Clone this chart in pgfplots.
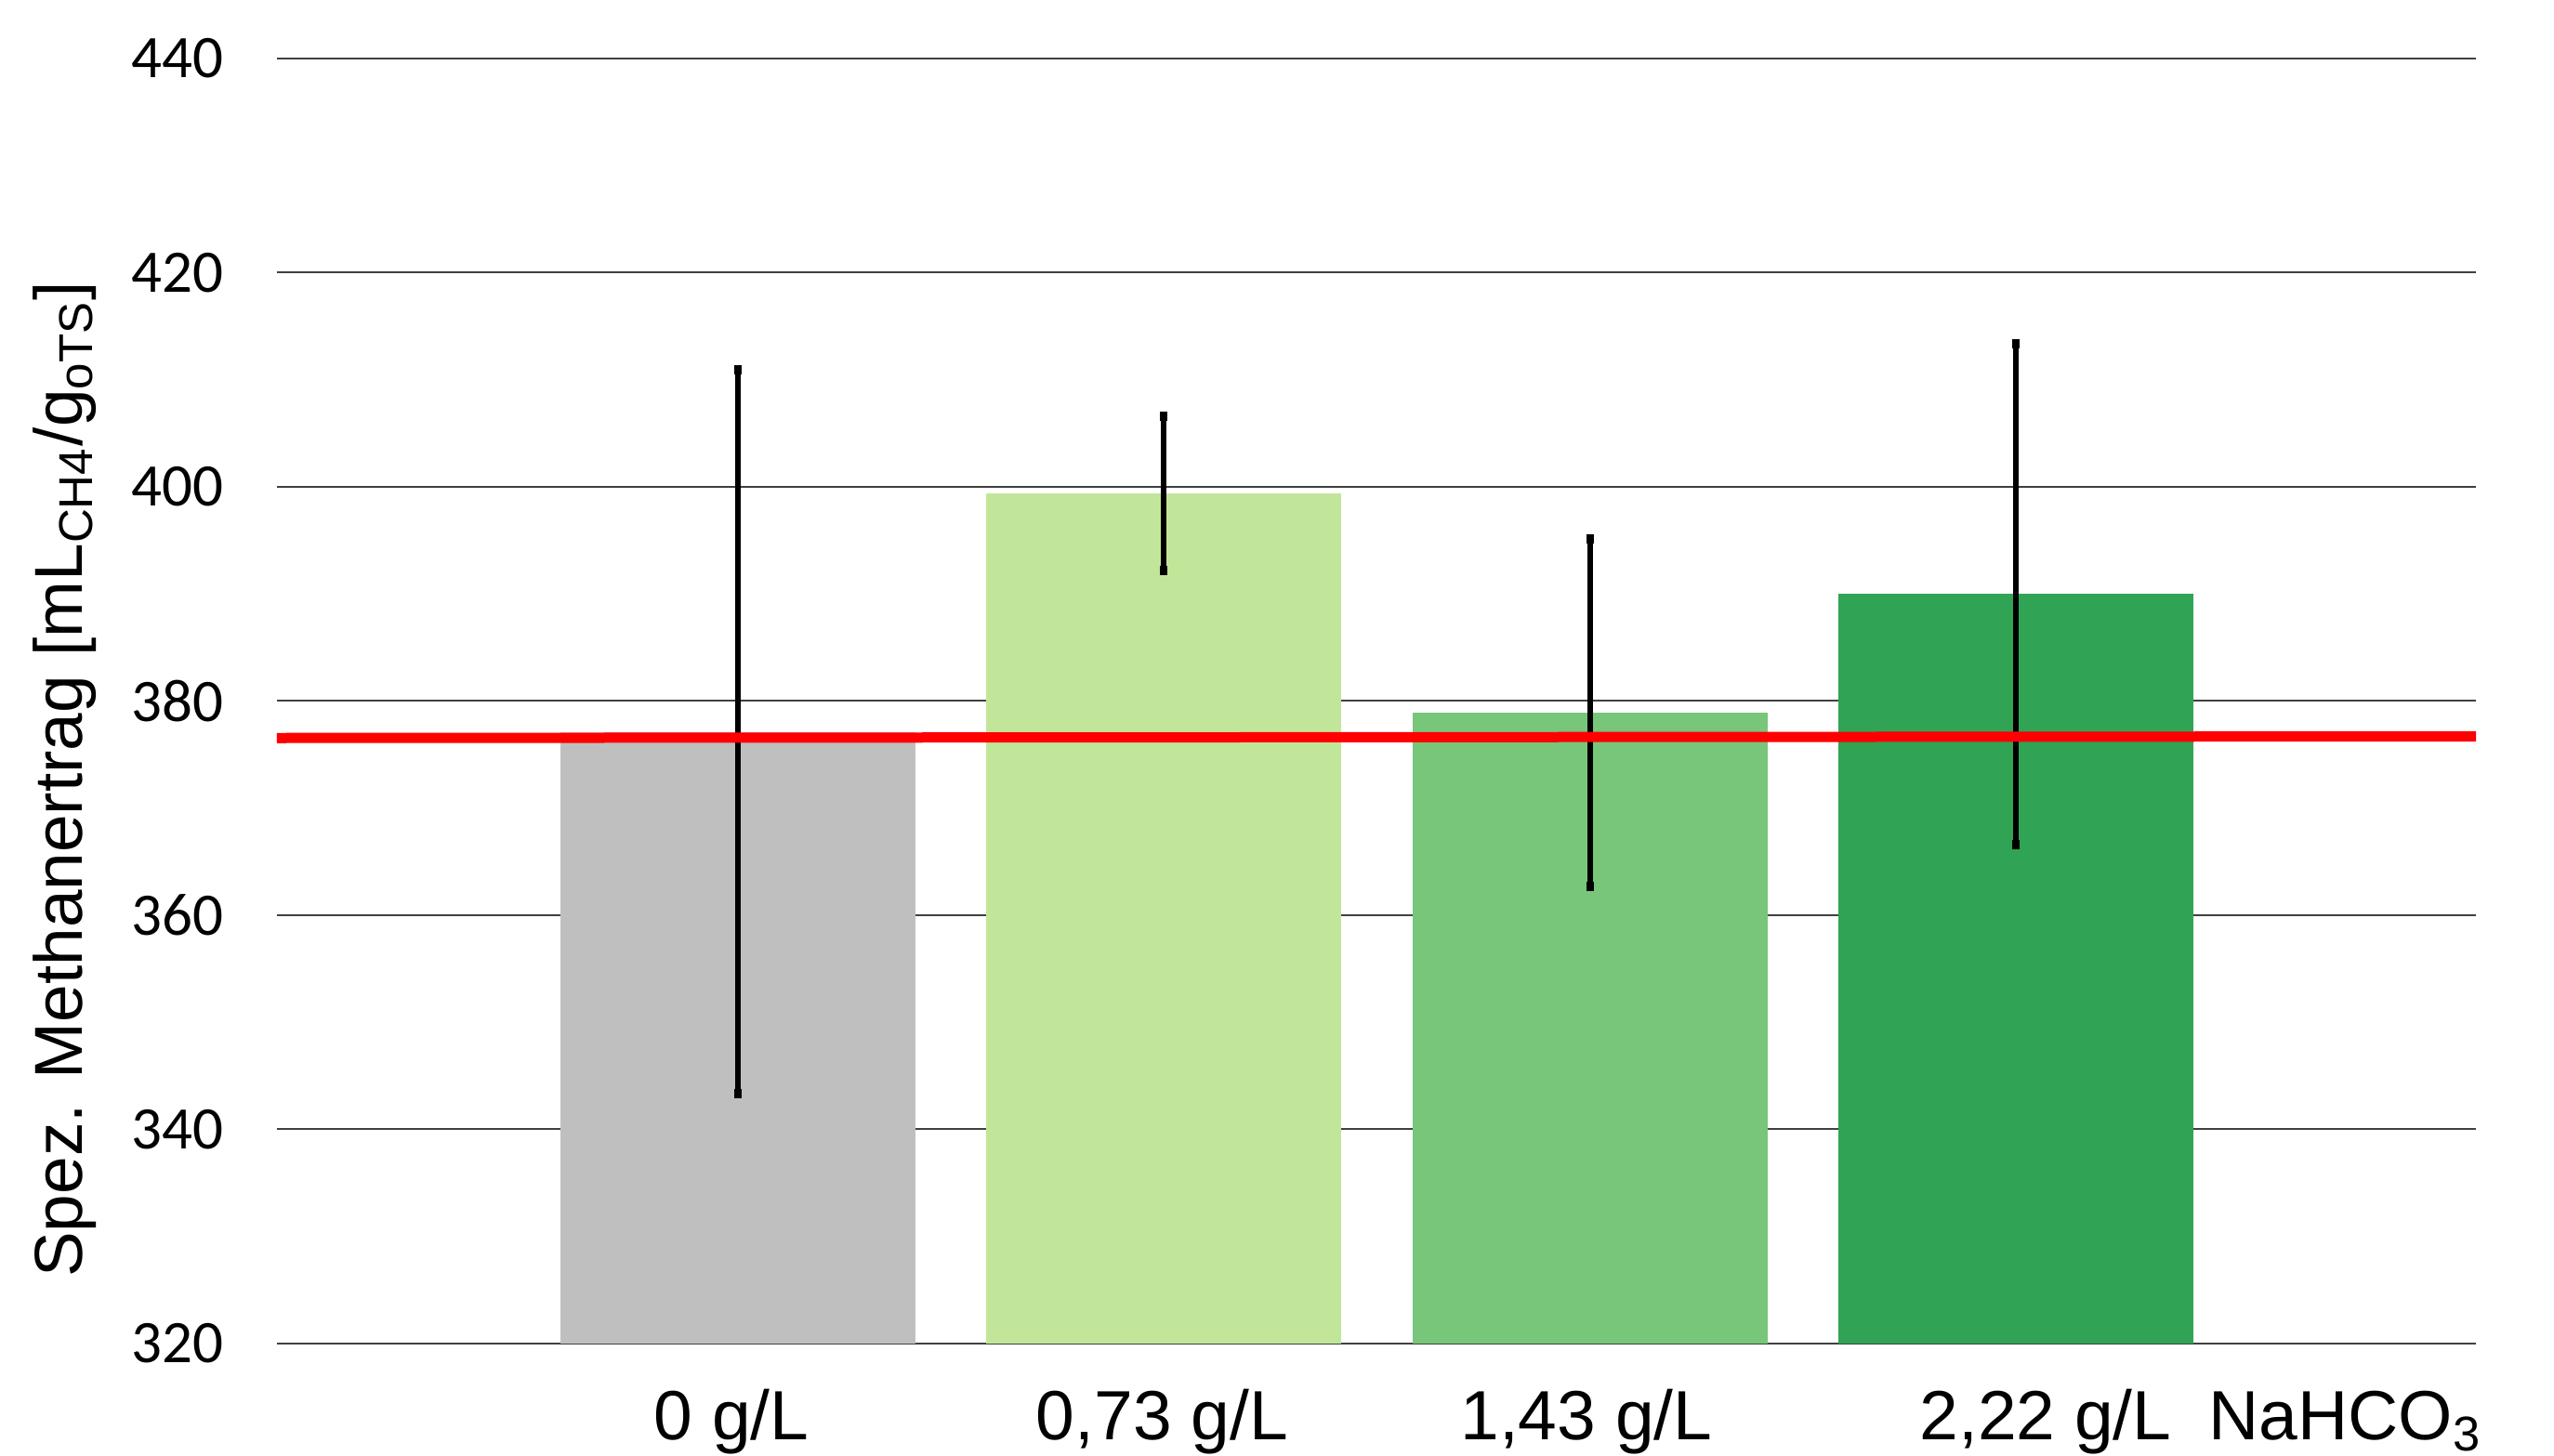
\documentclass[border=0pt]{standalone}
\usepackage{fontspec}
\setmainfont{Liberation Sans}
\newfontfamily\carlito{Carlito}
\usepackage{pgfplots}
\pgfplotsset{compat=1.18}
\definecolor{cgray}{HTML}{BFBFBF}
\definecolor{cg1}{HTML}{C2E699}
\definecolor{cg2}{HTML}{78C679}
\definecolor{cg3}{HTML}{31A354}
\pgfplotsset{myerr/.style={error bars/.cd, y dir=both, y explicit,
  error bar style={line width=1.25pt, black},
  error mark options={line width=1.6pt, mark size=1pt, black}}}
\begin{document}
\begin{tikzpicture}
\begin{axis}[
  at={(0,0)}, anchor=south west,
  scale only axis, width=473.2pt, height=276.6pt,
  xmin=-1.082, xmax=4.080, ymin=320, ymax=440,
  ytick={320,340,...,440},
  xtick={-0.015,0.996,1.992,3.07,3.774},
  xticklabels={0 g/L,{0,73 g/L},{1,43 g/L},{2,22 g/L},NaHCO\textsubscript{3}},
  axis line style={draw=none},
  tick style={draw=none},
  ymajorgrids, grid style={black!75, line width=0.4pt},
  /pgf/number format/assume math mode=true,
  yticklabel style={font=\carlito\fontsize{13}{15}\selectfont, xshift=-8pt},
  xticklabel style={font=\fontsize{15}{18}\selectfont, anchor=center, yshift=-12.5pt},
  ylabel={Spez. Methanertrag [mL\textsubscript{CH4}/g\textsubscript{oTS}]},
  every axis y label/.style={at={(rel axis cs:0,0.439)}, xshift=-45.6pt, rotate=90, anchor=center, font=\fontsize{14.6}{17}\selectfont},
  ybar, bar width=0.834, bar shift=0pt,
]
\addplot[fill=cgray, draw=none, myerr] coordinates {(0,377.1) +- (0,33.8)};
\addplot[fill=cg1, draw=none, myerr] coordinates {(1,399.4) +- (0,7.2)};
\addplot[fill=cg2, draw=none, myerr] coordinates {(2,378.9) +- (0,16.2)};
\addplot[fill=cg3, draw=none, myerr] coordinates {(3,390.0) +- (0,23.4)};
\addplot[sharp plot, red, line width=2.2pt, forget plot, mark=none] coordinates {(-1.082,376.55) (4.08,376.7)};
\end{axis}
\pgfresetboundingbox
\path (-59.6pt,-24.2pt) rectangle (490pt,289.2pt);
\end{tikzpicture}
\end{document}
